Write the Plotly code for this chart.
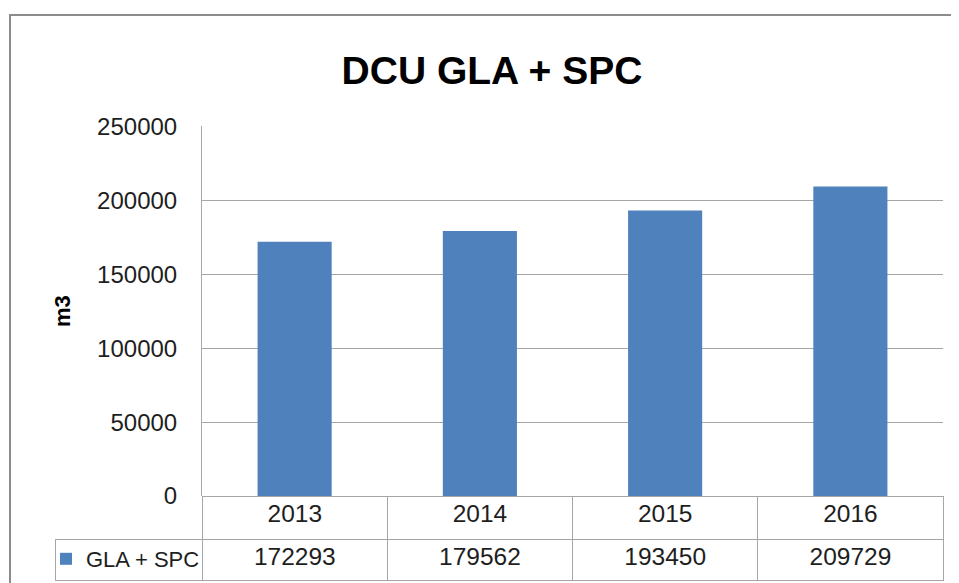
import plotly.graph_objects as go

years = ["2013", "2014", "2015", "2016"]
values = [172293, 179562, 193450, 209729]
series_name = "GLA + SPC"
y_ticks = [0, 50000, 100000, 150000, 200000, 250000]

BAR = "#4F81BD"
GRID = "#A6A6A6"
TXT = "#1E1E1E"
FONT = "Liberation Sans, Arial, sans-serif"
CLEAR = "rgba(0,0,0,0)"

# page body adds an 8px margin, so the figure is 8px smaller than the window
OFF = 8
W, H = 959 - OFF, 583 - OFF
px = lambda v: (v - OFF) / W
py = lambda v: 1 - (v - OFF) / H

YMAX = 250600
y_top_pix = 496 - (496 - 127) * YMAX / 250000

fig = go.Figure()
fig.add_trace(go.Bar(
    x=years, y=values, name=series_name,
    marker=dict(color=BAR, line=dict(width=0)),
    width=0.4, showlegend=True, hoverinfo="x+y",
))

fig.add_trace(go.Table(
    domain=dict(x=[px(55), px(943)], y=[0, py(496)]),
    columnwidth=[147, 185, 185, 185, 185],
    header=dict(
        values=[""] + years,
        height=43,
        align="center",
        font=dict(family=FONT, size=24.5, color=TXT),
        fill=dict(color=[CLEAR, "white", "white", "white", "white"]),
        line=dict(color=[CLEAR, GRID, GRID, GRID, GRID], width=1),
    ),
    cells=dict(
        values=[[""]] + [[f"{v}"] for v in values],
        height=41,
        align="center",
        font=dict(family=FONT, size=24.5, color=TXT),
        fill=dict(color="white"),
        line=dict(color=GRID, width=1),
    ),
))

fig.update_layout(
    width=W, height=H,
    margin=dict(l=0, r=0, t=0, b=0, autoexpand=False),
    paper_bgcolor="white", plot_bgcolor="white",
    title=dict(
        text="<b>DCU GLA + SPC</b>",
        x=px(492), xanchor="center", y=py(70), yanchor="middle",
        font=dict(family=FONT, size=39, color="#000000"),
    ),
    showlegend=True,
    legend=dict(
        x=px(46), xanchor="left", y=py(559), yanchor="middle",
        bgcolor=CLEAR, borderwidth=0,
        font=dict(family=FONT, size=22, color=TXT),
    ),
    xaxis=dict(
        domain=[px(202), px(943)],
        type="category", range=[-0.5, 3.5],
        showticklabels=False, showgrid=False, zeroline=False,
        showline=False, ticks="", automargin=False,
    ),
    yaxis=dict(
        domain=[py(496), py(y_top_pix)],
        range=[0, YMAX], tickvals=y_ticks,
        ticktext=[str(v) for v in y_ticks],
        showgrid=True, gridcolor=GRID, gridwidth=1,
        zeroline=False, automargin=False,
        showline=True, linecolor=GRID, linewidth=1,
        ticks="", ticklabelstandoff=19,
        tickfont=dict(family=FONT, size=24, color=TXT),
        title=dict(text="<b>m3</b>", standoff=20,
                   font=dict(family=FONT, size=22, color="#000000")),
    ),
    shapes=[
        dict(type="rect", xref="paper", yref="paper",
             x0=px(10), x1=1.05, y0=-0.05, y1=py(15),
             line=dict(color="#8C8C8C", width=2), fillcolor=CLEAR,
             layer="below"),
    ],
)

fig.write_html("out.html")
